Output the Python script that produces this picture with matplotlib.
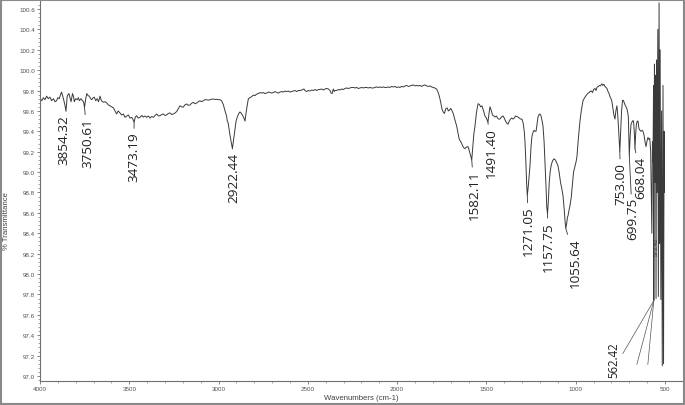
import numpy as np
import matplotlib
matplotlib.use("Agg")
import matplotlib.pyplot as plt
from matplotlib.ticker import MultipleLocator, FormatStrFormatter
from matplotlib.patches import Rectangle

# ---------------- data ----------------
wavenumber = [
    4000, 3990, 3981, 3972, 3963, 3954, 3944, 3935, 3925, 3916, 3907, 3900, 3892, 3885, 3879,
    3872, 3869, 3862, 3854.32, 3848, 3845, 3838, 3832, 3826, 3818, 3812, 3808, 3800, 3792,
    3785, 3780, 3770, 3762, 3756, 3750.61, 3744, 3738, 3731, 3724, 3716, 3710, 3702, 3696,
    3688, 3680, 3672, 3664, 3656, 3645, 3636, 3627, 3618, 3608, 3598, 3589, 3580, 3571, 3562,
    3552, 3543, 3533, 3524, 3514, 3505, 3496, 3487, 3480, 3473.19, 3466, 3459, 3450, 3440,
    3430, 3422, 3412, 3403, 3393, 3384, 3375, 3365, 3356, 3346, 3337, 3328, 3318, 3309, 3300,
    3291, 3282, 3272, 3263, 3253, 3244, 3235, 3226, 3216, 3207, 3198, 3188, 3179, 3170, 3160,
    3151, 3141, 3132, 3122, 3113, 3104, 3095, 3085, 3076, 3067, 3058, 3048, 3039, 3029, 3020,
    3011, 3002, 2992, 2983, 2973, 2964, 2955, 2951, 2946, 2936, 2930, 2922.44, 2915, 2908,
    2902, 2895, 2888, 2880, 2872, 2865, 2858, 2852, 2846, 2839, 2833, 2824, 2815, 2805, 2796,
    2787, 2777, 2768, 2758, 2749, 2740, 2731, 2721, 2712, 2702, 2693, 2684, 2674, 2665, 2656,
    2646, 2637, 2628, 2619, 2609, 2600, 2590, 2581, 2572, 2562, 2553, 2544, 2534, 2522, 2516,
    2507, 2497, 2488, 2478, 2469, 2460, 2450, 2441, 2432, 2422, 2413, 2404, 2395, 2385, 2376,
    2370, 2364, 2360, 2357, 2352, 2348, 2339, 2329, 2320, 2310, 2301, 2292, 2283, 2273, 2264,
    2255, 2245, 2236, 2227, 2217, 2208, 2199, 2189, 2180, 2171, 2161, 2152, 2143, 2133, 2124,
    2115, 2105, 2096, 2087, 2077, 2068, 2059, 2049, 2040, 2031, 2021, 2012, 2003, 1993, 1984,
    1975, 1965, 1956, 1947, 1937, 1928, 1919, 1909, 1900, 1891, 1881, 1872, 1863, 1853, 1844,
    1835, 1825, 1816, 1807, 1798, 1789, 1779, 1770, 1763, 1756, 1749, 1742, 1735, 1728, 1720,
    1713, 1706, 1700, 1692, 1685, 1676, 1667, 1659, 1652, 1644, 1636, 1628, 1620, 1612, 1603,
    1596, 1590, 1582.11, 1576, 1570, 1564, 1556, 1547, 1540, 1532, 1525, 1516, 1508, 1500,
    1491.40, 1485, 1480, 1472, 1466, 1458, 1452, 1444, 1436, 1430, 1424, 1416, 1407, 1400,
    1393, 1386, 1379, 1372, 1365, 1358, 1351, 1344, 1337, 1330, 1323, 1316, 1309, 1301, 1294,
    1288, 1284, 1279, 1275, 1271.05, 1266, 1261, 1256, 1250, 1245, 1239, 1233, 1228, 1222,
    1216, 1211, 1205, 1200, 1194, 1188, 1183, 1177, 1172, 1166, 1162, 1157.75, 1153, 1148,
    1143, 1138, 1130, 1122, 1114, 1106, 1099, 1092, 1085, 1078, 1071, 1065, 1060, 1055.64,
    1050, 1046, 1043, 1038, 1032, 1025, 1018, 1012, 1005, 998, 993, 985, 976, 968, 959, 950,
    942, 933, 925, 920, 912, 906, 900, 892, 886, 881, 874, 867, 862, 858, 853, 848, 842, 836,
    830, 825, 819, 813, 808, 802, 797, 791, 786, 780, 775, 769, 764, 759, 753.00, 748, 743,
    738, 735, 730, 724, 718, 713, 708, 705, 699.75, 695, 690, 685, 680, 676, 672, 668.04, 664,
    660, 655, 651, 646, 640, 634, 628, 623, 617, 612, 606, 600, 595, 590, 585, 580, 576,
    573.42, 570, 567, 564, 562.42, 559, 556, 553, 550, 547, 544, 540, 537, 533, 530, 527, 523,
    519, 515, 511, 508, 505, 503,
]
transmittance = [
    99.72, 99.70, 99.73, 99.71, 99.745, 99.72, 99.735, 99.70, 99.72, 99.69, 99.70, 99.73, 99.72, 99.76, 99.785,
    99.74, 99.72, 99.67, 99.60, 99.74, 99.755, 99.77, 99.73, 99.69, 99.77, 99.74, 99.69, 99.72, 99.71,
    99.73, 99.70, 99.72, 99.70, 99.69, 99.635, 99.72, 99.77, 99.75, 99.745, 99.72, 99.71, 99.73, 99.735,
    99.70, 99.72, 99.69, 99.745, 99.70, 99.685, 99.69, 99.68, 99.66, 99.65, 99.64, 99.63, 99.60, 99.57, 99.60,
    99.58, 99.56, 99.57, 99.537, 99.55, 99.56, 99.53, 99.537, 99.52, 99.49, 99.54, 99.553, 99.53, 99.537,
    99.555, 99.54, 99.55, 99.537, 99.55, 99.53, 99.545, 99.537, 99.555, 99.57, 99.55, 99.553, 99.565, 99.57, 99.555,
    99.56, 99.575, 99.58, 99.565, 99.57, 99.58, 99.593, 99.62, 99.65, 99.64, 99.636, 99.66, 99.668, 99.655, 99.658,
    99.675, 99.685, 99.67, 99.678, 99.69, 99.70, 99.69, 99.70, 99.71, 99.71, 99.705, 99.71, 99.715, 99.717, 99.712,
    99.714, 99.71, 99.71, 99.70, 99.66, 99.60, 99.55, 99.50, 99.48, 99.36, 99.30, 99.23, 99.33, 99.42,
    99.50, 99.54, 99.57, 99.59, 99.575, 99.555, 99.53, 99.50, 99.58, 99.66, 99.72, 99.73, 99.74, 99.755, 99.75,
    99.765, 99.77, 99.78, 99.775, 99.78, 99.77, 99.775, 99.785, 99.78, 99.775, 99.78, 99.79, 99.78, 99.775, 99.785,
    99.79, 99.785, 99.795, 99.79, 99.795, 99.785, 99.79, 99.795, 99.80, 99.79, 99.80, 99.80, 99.805, 99.815, 99.80,
    99.79, 99.80, 99.795, 99.805, 99.80, 99.81, 99.80, 99.81, 99.81, 99.815, 99.805, 99.815, 99.82, 99.815, 99.80,
    99.775, 99.77, 99.80, 99.815, 99.79, 99.80, 99.80, 99.81, 99.805, 99.815, 99.81, 99.82, 99.825, 99.82, 99.825,
    99.83, 99.83, 99.825, 99.83, 99.82, 99.825, 99.83, 99.825, 99.83, 99.83, 99.825, 99.83, 99.825, 99.825, 99.83,
    99.835, 99.83, 99.835, 99.83, 99.835, 99.83, 99.83, 99.835, 99.83, 99.84, 99.835, 99.84, 99.83, 99.835, 99.83,
    99.84, 99.835, 99.845, 99.85, 99.84, 99.845, 99.85, 99.855, 99.845, 99.85, 99.845, 99.85, 99.84, 99.85, 99.855,
    99.845, 99.84, 99.845, 99.835, 99.83, 99.825, 99.815, 99.78, 99.74, 99.685, 99.62, 99.59, 99.575, 99.62, 99.63,
    99.60, 99.61, 99.625, 99.60, 99.57, 99.51, 99.455, 99.38, 99.32, 99.30, 99.27, 99.24, 99.23, 99.245, 99.25,
    99.21, 99.17, 99.12, 99.25, 99.38, 99.45, 99.58, 99.67, 99.665, 99.64, 99.65, 99.60, 99.55, 99.53,
    99.49, 99.58, 99.64, 99.60, 99.56, 99.55, 99.54, 99.55, 99.525, 99.52, 99.52, 99.54, 99.55, 99.53,
    99.50, 99.48, 99.47, 99.50, 99.52, 99.53, 99.52, 99.53, 99.55, 99.545, 99.54, 99.53, 99.52, 99.52, 99.48,
    99.40, 99.30, 99.10, 98.90, 98.77, 98.85, 98.96, 99.06, 99.25, 99.35, 99.39, 99.41, 99.40, 99.40,
    99.48, 99.54, 99.565, 99.57, 99.55, 99.50, 99.45, 99.30, 99.10, 98.85, 98.66, 98.59, 98.72, 98.90,
    99.00, 99.06, 99.11, 99.13, 99.12, 99.09, 99.06, 98.99, 98.90, 98.84, 98.77, 98.65, 98.53, 98.45,
    98.50, 98.56, 98.57, 98.62, 98.67, 98.75, 98.88, 99.00, 99.05, 99.10, 99.15, 99.33, 99.50, 99.61, 99.70, 99.73,
    99.75, 99.77, 99.78, 99.79, 99.795, 99.78, 99.81, 99.82, 99.80, 99.83, 99.84, 99.85, 99.845, 99.855, 99.865, 99.85, 99.86, 99.84,
    99.83, 99.82, 99.79, 99.77, 99.74, 99.72, 99.69, 99.62, 99.56, 99.52, 99.60, 99.65, 99.55, 99.40, 99.20, 99.40, 99.60,
    99.70, 99.705, 99.69, 99.66, 99.64, 99.62, 99.58, 99.54, 99.16, 99.35, 99.47, 99.49, 99.505, 99.50, 99.40, 99.23, 99.38,
    99.47, 99.50, 99.50, 99.43, 99.41, 99.40, 99.41, 99.40, 99.36, 99.30, 99.25, 99.31, 99.34, 99.32, 99.33, 99.20, 98.70,
    98.40, 99.30, 99.10, 99.85, 97.74, 100.06, 98.90, 99.95, 97.76, 100.10, 98.80, 100.40, 97.78, 100.66, 98.30, 100.20, 97.75,
    99.60, 97.10, 99.85, 97.12, 99.40, 98.80,
]

peak_labels = ["3854.32", "3750.61", "3473.19", "2922.44", "1582.11", "1491.40",
               "1271.05", "1157.75", "1055.64", "753.00", "699.75", "668.04"]
extra_label = "562.42"
tiny_label = "573.42"

x_ticks = [4000, 3500, 3000, 2500, 2000, 1500, 1000, 500]

# ---------------- layout / style ----------------
W, H = 685, 406
fig = plt.figure(figsize=(W / 100, H / 100), dpi=100)
fig.patch.set_facecolor("white")
ax = fig.add_axes([40 / W, (H - 382) / H, (683 - 40) / W, (382 - 2) / H])

wn = np.array(wavenumber, dtype=float)
tr = np.array(transmittance, dtype=float)
ax.plot(wn, tr, color="#3a3a3a", lw=0.7)

ax.set_xlim(4000, 399)
ax.set_ylim(96.951, 100.678)

for side in ("top", "right"):
    ax.spines[side].set_visible(False)
for side in ("left", "bottom"):
    ax.spines[side].set_color("#707070")
    ax.spines[side].set_linewidth(0.8)

ax.set_xticks(x_ticks)
ax.set_xticklabels([str(v) for v in x_ticks])
ax.xaxis.set_minor_locator(MultipleLocator(100))
ax.yaxis.set_major_locator(MultipleLocator(0.2))
ax.yaxis.set_major_formatter(FormatStrFormatter("%.1f"))
ax.yaxis.set_minor_locator(MultipleLocator(0.04))
ax.tick_params(which="major", length=2.2, width=0.6, color="#707070",
               labelsize=4.5, labelcolor="#505050", pad=1.5)
ax.tick_params(which="minor", length=1.2, width=0.5, color="#808080")
for lab in ax.get_xticklabels() + ax.get_yticklabels():
    lab.set_family("Liberation Sans")

fig.text(361.5 / W, (H - 399) / H, "Wavenumbers (cm-1)", ha="center", va="center",
         fontsize=5.6, color="#404040", family="Liberation Sans")
fig.text(7 / W, (H - 221.5) / H, "% Transmittance", ha="center", va="center",
         rotation=90, fontsize=5.6, color="#404040", family="Liberation Sans")

def pt(v):
    return v * 72.0 / 100.0

order = np.argsort(wn)
def t_at(w):
    return float(np.interp(w, wn[order], tr[order]))

# label offsets in pixels (dx right, dy down from the dip to the text top)
label_offsets = [(-2.5, 3), (3, 10), (0, 9), (1.5, 3), (2.5, 10), (3, 5),
                 (1, 10), (0.5, 7), (10, 9), (1, 10), (3, 41), (6, 7)]
line_kw = dict(arrowstyle="-", lw=0.6, color="#333333", shrinkA=0, shrinkB=0)
for lab, (dx, dy) in zip(peak_labels, label_offsets):
    w = float(lab)
    ax.annotate(lab, xy=(w, t_at(w)), xytext=(pt(dx), -pt(dy)), textcoords="offset points",
                rotation=90, ha="center", va="top", fontsize=9.7, family="Open Sans",
                color="#222222", arrowprops=line_kw)

# 562.42 with its fan of leader lines
w = float(extra_label)
ax.annotate(extra_label, xy=(w, t_at(w)), xytext=(pt(-40), -pt(41)), textcoords="offset points",
            rotation=90, ha="center", va="top", fontsize=8.3, family="Open Sans", color="#222222")
for dx, dy in [(-31, 53), (-17, 64), (-6, 64)]:
    ax.annotate("", xy=(w, t_at(w)), xytext=(pt(dx), -pt(dy)), textcoords="offset points",
                arrowprops=dict(arrowstyle="-", lw=0.5, color="#555555", shrinkA=0, shrinkB=0))

w = float(tiny_label)
ax.annotate(tiny_label, xy=(w, t_at(w)), xytext=(pt(4), -pt(3)), textcoords="offset points",
            rotation=90, ha="center", va="top", fontsize=4.3, family="Liberation Sans", color="#333333")

fig.patches.append(Rectangle((0.001, 0.002), 0.997, 0.996, transform=fig.transFigure,
                             fill=False, ec="#8a8a8a", lw=1.5))

fig.savefig("out.png", dpi=100)
